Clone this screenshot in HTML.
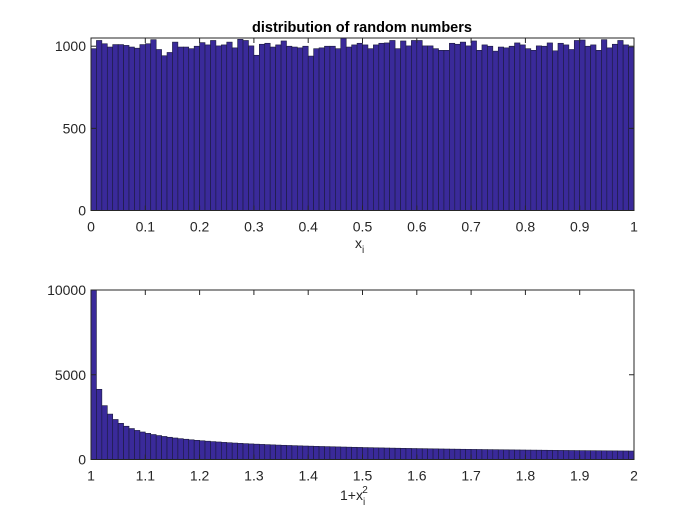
<!DOCTYPE html>
<html><head><meta charset="utf-8"><style>
body{margin:0;background:#fff;}
svg{display:block;font-family:"Liberation Sans",Arial,sans-serif;}
</style></head><body>
<svg id="chart" width="700" height="525" viewBox="0 0 700 525"></svg>
<script>
const topCounts=[985,1035,1015,995,1010,1010,1005,995,988,1010,1015,1040,980,942,962,1025,995,995,985,1000,1022,1008,1035,1002,1008,1025,990,1042,1035,1002,945,1012,1018,995,1008,1032,1000,995,990,1000,940,985,990,1000,1000,985,1050,995,1008,1018,1008,985,1008,1018,1020,1035,985,1032,1002,1035,1035,1002,1002,985,975,975,1018,1012,1025,1002,1032,975,1008,1000,970,995,990,1000,1020,1008,985,975,1002,1000,1020,972,1018,1008,980,1035,1038,1000,1008,975,1040,990,1012,1035,1008,995];
const botCounts=[10000,4142,3178,2679,2361,2134,1963,1827,1716,1623,1543,1474,1414,1360,1312,1269,1231,1196,1163,1133,1106,1080,1056,1034,1010,990,971,953,936,920,905,891,877,864,851,839,828,817,806,796,787,777,768,760,752,744,736,728,721,714,704,698,690,685,678,672,666,660,654,648,643,638,632,628,622,618,613,609,604,599,595,591,587,583,579,575,572,568,564,561,557,554,551,547,544,540,537,534,531,528,525,522,520,517,514,511,509,506,504,501];
const topYTicks=[0,500,1000];
const topXTicks=["0","0.1","0.2","0.3","0.4","0.5","0.6","0.7","0.8","0.9","1"];
const botYTicks=[0,5000,10000];
const botXTicks=["1","1.1","1.2","1.3","1.4","1.5","1.6","1.7","1.8","1.9","2"];

const NS="http://www.w3.org/2000/svg";
const svg=document.getElementById('chart');
function mk(tag,attrs,parent){const e=document.createElementNS(NS,tag);for(const k in attrs)e.setAttribute(k,attrs[k]);(parent||svg).appendChild(e);return e;}

function drawAxes(cfg){
  const {x0,x1,y0,y1,ymax,counts,yTicks,xTicks,name}=cfg;
  const g=mk('g',{});
  
  
  const xs=i=>x0+(x1-x0)*i/counts.length;
  const ys=v=>y1-(y1-y0)*Math.min(v,ymax)/ymax;
  counts.forEach((c,i)=>{
    const r=mk('rect',{x:xs(i),y:ys(c),width:xs(i+1)-xs(i),height:y1-ys(c),fill:'#3a2a9a',stroke:'#1a1a3a','stroke-width':0.6},g);
    
    
  });
  const box=mk('rect',{x:x0,y:y0,width:x1-x0,height:y1-y0,fill:'none',stroke:'#262626','stroke-width':1},g);
  
  
  yTicks.forEach(v=>{
    const y=ys(v);
    mk('line',{x1:x0,x2:x0+5,y1:y,y2:y,stroke:'#262626'},g);
    mk('line',{x1:x1,x2:x1-5,y1:y,y2:y,stroke:'#262626'},g);
    const t=mk('text',{x:x0-5,y:y+5,'text-anchor':'end','font-size':14,fill:'#262626'},g);
    t.textContent=v;
    
    
  });
  xTicks.forEach((lab,i)=>{
    const x=x0+(x1-x0)*i/(xTicks.length-1);
    mk('line',{x1:x,x2:x,y1:y1,y2:y1-5,stroke:'#262626'},g);
    mk('line',{x1:x,x2:x,y1:y0,y2:y0+5,stroke:'#262626'},g);
    const t=mk('text',{x:x,y:y1+21,'text-anchor':'middle','font-size':14,fill:'#262626'},g);
    t.textContent=lab;
    
    
  });
}
drawAxes({x0:91,x1:634,y0:38,y1:210.5,ymax:1050,counts:topCounts,yTicks:topYTicks,xTicks:topXTicks,name:'top-histogram'});
drawAxes({x0:91,x1:634,y0:290,y1:459.5,ymax:10000,counts:botCounts,yTicks:botYTicks,xTicks:botXTicks,name:'bottom-histogram'});
</script>
<svg style="position:absolute;left:0;top:0" width="700" height="525">
<text x="362" y="32" text-anchor="middle" font-size="14.5" font-weight="bold" fill="#000" font-family="Liberation Sans, sans-serif">distribution of random numbers</text>
<text x="355" y="248" font-size="14" fill="#262626" font-family="Liberation Sans, sans-serif">x<tspan font-size="10" dy="5">i</tspan></text>
<text x="340" y="500" font-size="14" fill="#262626" font-family="Liberation Sans, sans-serif">1+x<tspan font-size="10" dy="5">i</tspan><tspan font-size="10" dx="-3" dy="-12">2</tspan></text>
</svg>
</body></html>
